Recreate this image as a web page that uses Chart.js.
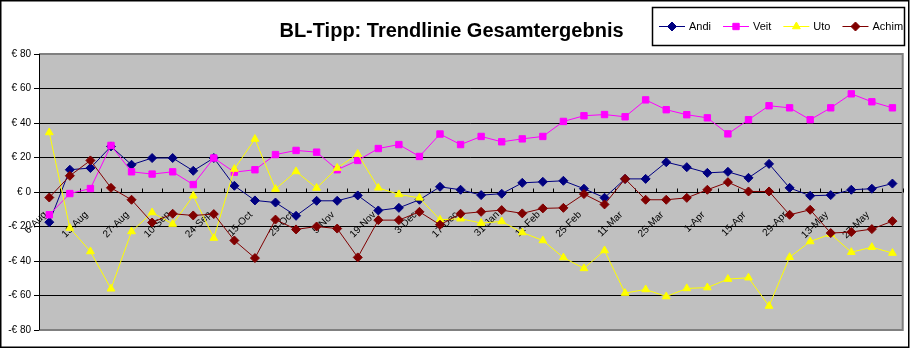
<!DOCTYPE html>
<html><head><meta charset="utf-8">
<script src="https://cdn.jsdelivr.net/npm/chart.js@4/dist/chart.umd.min.js"></script>
<style>html,body{margin:0;padding:0;background:#fff}#wrap{width:910px;height:348px}</style>
</head><body><div id="wrap"><canvas id="c" width="910" height="348"></canvas></div>
<script>
const categories = ['6-Aug','9-Aug','13-Aug','20-Aug','27-Aug','3-Sep','10-Sep','17-Sep','24-Sep','1-Oct',
  '15-Oct','22-Oct','29-Oct','1-Nov','5-Nov','12-Nov','19-Nov','26-Nov','3-Dec','10-Dec',
  '17-Dec','21-Jan','31-Jan','4-Feb','11-Feb','18-Feb','25-Feb','3-Mar','11-Mar','18-Mar',
  '25-Mar','28-Mar','1-Apr','8-Apr','15-Apr','22-Apr','29-Apr','6-May','13-May','20-May',
  '27-May','3-Jun'];
const andi = [-17.5,12.9,13.9,26.4,15.8,19.7,19.7,12.3,19.7,3.6,
  -4.9,-6.1,-13.8,-5.1,-5.1,-2.0,-10.7,-9.2,-4.5,3.0,
  1.3,-1.8,-1.0,5.3,5.9,6.5,1.9,-3.3,7.6,7.6,
  17.3,14.4,11.1,11.7,8.2,16.3,2.4,-2.2,-1.8,1.3,
  1.9,4.9];
const veit = [-13.2,-0.9,2.0,27.0,11.7,10.4,11.7,4.3,19.7,11.5,
  12.9,21.7,24.1,23.1,12.9,18.3,25.2,27.5,20.6,33.6,
  27.5,32.2,29.1,30.8,32.2,40.9,44.2,44.9,43.6,53.4,
  47.7,44.8,43.0,33.7,41.9,50.0,48.8,41.9,48.8,56.9,
  52.3,48.8];
const uto = [34.5,-20.9,-34.5,-56.1,-22.9,-11.9,-18.6,-2.2,-26.7,13.3,
  30.7,1.7,11.9,2.3,13.9,22.0,2.4,-1.4,-3.4,-16.1,
  -15.5,-18.0,-17.1,-23.5,-28.1,-38.0,-44.3,-33.9,-58.6,-56.5,
  -60.6,-55.9,-55.4,-50.5,-49.7,-66.1,-37.8,-28.7,-24.4,-34.9,
  -32.0,-35.4];
const achim = [-3.2,9.4,18.3,2.4,-4.5,-17.7,-12.6,-13.6,-12.8,-28.1,
  -38.3,-16.0,-21.7,-20.0,-21.2,-37.9,-16.3,-16.3,-11.5,-19.0,
  -12.6,-11.5,-10.5,-12.4,-9.5,-9.2,-1.2,-7.2,7.6,-4.5,
  -4.5,-3.4,1.3,5.7,0.3,0.3,-13.2,-10.3,-23.8,-23.2,
  -21.5,-16.9];
const yTicks = [-80,-60,-40,-20,0,20,40,60,80];
const titleText = 'BL-Tipp: Trendlinie Gesamtergebnis';
const FONT = '"Liberation Sans", Arial, sans-serif';

const decor = {
  id: 'decor',
  beforeDraw(chart) {
    const {ctx, chartArea: a} = chart;
    ctx.save();
    ctx.fillStyle = '#fff';
    ctx.fillRect(0, 0, chart.width, chart.height);
    ctx.fillStyle = '#C0C0C0';
    ctx.fillRect(a.left, a.top, a.right - a.left, a.bottom - a.top);
    ctx.restore();
  },
  beforeDatasetsDraw(chart) {
    const {ctx, chartArea: a, scales} = chart;
    ctx.save();
    ctx.strokeStyle = '#808080';
    ctx.lineWidth = 2;
    ctx.beginPath();
    ctx.moveTo(a.left, a.top); ctx.lineTo(a.right, a.top); ctx.lineTo(a.right, a.bottom); ctx.lineTo(a.left, a.bottom);
    ctx.stroke();
    ctx.strokeStyle = '#000';
    ctx.lineWidth = 1;
    ctx.beginPath();
    ctx.moveTo(a.left + 0.5, a.top); ctx.lineTo(a.left + 0.5, a.bottom);
    const y0 = Math.round(scales.y.getPixelForValue(0)) + 0.5;
    for (let i = 0; i <= categories.length; i++) {
      const x = Math.round(scales.x.getPixelForValue(i - 0.5)) + 0.5;
      ctx.moveTo(x, y0); ctx.lineTo(x, y0 - 4);
    }
    ctx.stroke();
    ctx.restore();
  },
  afterDraw(chart) {
    const {ctx} = chart;
    ctx.save();
    ctx.strokeStyle = '#000';
    ctx.lineWidth = 1.5;
    ctx.strokeRect(0.75, 0.75, chart.width - 2, chart.height - 1.5);
    ctx.lineWidth = 1.5;
    ctx.strokeRect(652.5, 7.5, 252, 38);
    ctx.font = '11px ' + FONT;
    ctx.textBaseline = 'middle';
    let x = 659;
    const y = 26;
    chart.data.datasets.forEach(ds => {
      ctx.strokeStyle = ds.borderColor;
      ctx.fillStyle = ds.backgroundColor;
      ctx.lineWidth = 1;
      ctx.beginPath(); ctx.moveTo(x, y + 0.5); ctx.lineTo(x + 26, y + 0.5); ctx.stroke();
      Chart.helpers.drawPoint(ctx, {pointStyle: ds.pointStyle, radius: ds.pointRadius, borderWidth: 1, rotation: 0}, x + 13, y + 0.5);
      ctx.fillStyle = '#000';
      ctx.fillText(ds.label, x + 30, y + 1);
      x = x + 30 + ctx.measureText(ds.label).width + 12;
    });
    ctx.restore();
  }
};

const mk = (label, data, color, style, r, order) => ({
  label, data, borderColor: color, backgroundColor: color, borderWidth: 1,
  pointStyle: style, pointRadius: r, pointHoverRadius: r, pointBorderWidth: 1, tension: 0, order
});

new Chart(document.getElementById('c'), {
  type: 'line',
  data: {
    labels: categories,
    datasets: [
      mk('Andi', andi, '#000080', 'rectRot', 4.5, 4),
      mk('Veit', veit, '#FF00FF', 'rect', 4.5, 3),
      mk('Uto', uto, '#FFFF00', 'triangle', 4.5, 2),
      mk('Achim', achim, '#800000', 'rectRot', 4.5, 1)
    ]
  },
  options: {
    responsive: false,
    devicePixelRatio: 1,
    animation: false,
    layout: {padding: {left: 0, right: 7, top: 0, bottom: 18}},
    plugins: {
      legend: {display: false},
      tooltip: {enabled: false},
      title: {
        display: true, text: titleText, color: '#000',
        font: {family: FONT, size: 20, weight: 'bold'},
        padding: {top: 19, bottom: 11}
      }
    },
    scales: {
      x: {
        type: 'category',
        position: {y: 0},
        offset: true,
        grid: {display: false},
        border: {display: false},
        ticks: {
          autoSkip: false, maxRotation: 45, minRotation: 45, padding: 9, labelOffset: -4,
          color: '#000', font: {family: FONT, size: 10},
          callback: function(v, i) { return i % 2 === 0 ? categories[i] : ''; }
        },
        afterFit: s => { s.height = 0; }
      },
      y: {
        min: -80, max: 80,
        afterBuildTicks: s => { s.ticks = yTicks.map(v => ({value: v})); },
        afterFit: s => { s.width = 39; },
        border: {display: false},
        grid: {
          color: c => (c.tick && Math.abs(c.tick.value) === 80) ? 'rgba(0,0,0,0)' : '#000',
          lineWidth: 1, tickLength: 5, tickColor: '#000', drawTicks: true
        },
        ticks: {
          padding: 3, color: '#000', font: {family: FONT, size: 10},
          callback: v => v < 0 ? '-€ ' + (-v) : '€ ' + v
        }
      }
    }
  },
  plugins: [decor]
});
</script></body></html>
